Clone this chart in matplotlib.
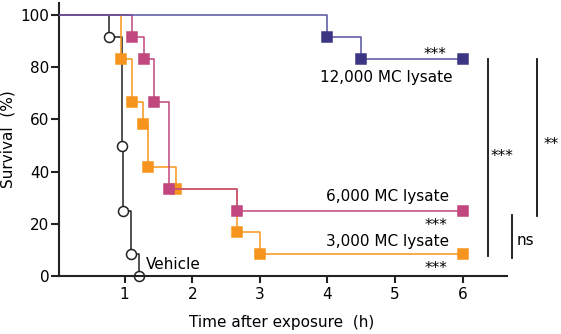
#!/usr/bin/env python3
import numpy as np
import matplotlib
matplotlib.use("Agg")
import matplotlib.pyplot as plt

# Kaplan-Meier style survival data (hours, % survival)
vehicle_t = [0.77, 0.96, 0.98, 1.10, 1.21]
vehicle_s = [91.7, 50.0, 25.0, 8.3, 0.0]

low_t = [0.94, 1.11, 1.27, 1.35, 1.76, 2.66, 3.0, 6.0]   # 3,000 MC lysate
low_s = [83.3, 66.7, 58.3, 41.7, 33.3, 16.7, 8.3, 8.3]

mid_t = [1.11, 1.28, 1.43, 1.65, 2.66, 6.0]              # 6,000 MC lysate
mid_s = [91.7, 83.3, 66.7, 33.3, 25.0, 25.0]

high_t = [4.0, 4.5, 6.0]                                 # 12,000 MC lysate
high_s = [91.7, 83.3, 83.3]

x_ticks = [1, 2, 3, 4, 5, 6]
y_ticks = [0, 20, 40, 60, 80, 100]

plt.rcParams["font.family"] = ["DejaVu Sans"]
FS = 11
PX = 67.6  # pixels per hour

fig = plt.figure(figsize=(5.61, 3.34), dpi=100)
ax = fig.add_axes([59 / 561, 58 / 334, 502 / 561, 273 / 334])
ax.set_xlim(2 / PX, 504 / PX)
ax.set_ylim(0, 104.6)


def km(t, s, line_c, mark_c, marker, face=None, z=2):
    xs = np.r_[0, t]
    ys = np.r_[100, s]
    ax.step(xs, ys, where="post", color=line_c, lw=1.1, zorder=z)
    ax.plot(t, s, ls="none", marker=marker, ms=7 if marker == "s" else 7.2,
            mfc=face if face else mark_c, mec=mark_c, mew=1.1,
            zorder=z + 0.5, clip_on=False)


km(vehicle_t, vehicle_s, "#222222", "#222222", "o", face="white", z=2)
km(low_t, low_s, "#f7941d", "#f7941d", "s", z=3)
km(mid_t, mid_s, "#c2477f", "#c2477f", "s", z=4)
km(high_t, high_s, "#5650a0", "#3b3584", "s", z=5)

# labels on curves
ax.text(5.76, 85, "***", ha="right", va="center", fontsize=FS)
ax.text(5.85, 76, "12,000 MC lysate", ha="right", va="center", fontsize=FS)
ax.text(5.8, 30.5, "6,000 MC lysate", ha="right", va="center", fontsize=FS)
ax.text(5.78, 19.5, "***", ha="right", va="center", fontsize=FS)
ax.text(5.8, 13.3, "3,000 MC lysate", ha="right", va="center", fontsize=FS)
ax.text(5.78, 2.8, "***", ha="right", va="center", fontsize=FS)
ax.text(1.32, 4.5, "Vehicle", ha="left", va="center", fontsize=FS)

# significance brackets
ax.plot([6.37, 6.37], [83.3, 7.7], color="#111111", lw=1.3, clip_on=False)
ax.text(6.42, 45.8, "***", ha="left", va="center", fontsize=FS)
ax.plot([7.1, 7.1], [83.3, 23.0], color="#111111", lw=1.3, clip_on=False)
ax.text(7.2, 50.5, "**", ha="left", va="center", fontsize=FS)
ax.plot([6.73, 6.73], [23.4, 7.0], color="#111111", lw=1.3, clip_on=False)
ax.text(6.8, 13.5, "ns", ha="left", va="center", fontsize=FS)

# axes styling
for side in ("top", "right"):
    ax.spines[side].set_visible(False)
for side in ("left", "bottom"):
    ax.spines[side].set_linewidth(1.5)
    ax.spines[side].set_color("#222222")
ax.spines["bottom"].set_bounds(2 / PX, 6.65)
ax.set_xticks(x_ticks)
ax.set_yticks(y_ticks)
ax.tick_params(axis="y", direction="out", length=6, width=1.5,
               color="#222222", labelsize=FS, pad=1)
ax.tick_params(axis="x", direction="out", length=5, width=1.5,
               color="#222222", labelsize=FS, pad=3)

ax.set_xlabel("Time after exposure  (h)", fontsize=FS, va="center")
ax.set_ylabel("Survival  (%)", fontsize=FS)
ax.xaxis.set_label_coords((282 - 59) / 502, -(322 - 276) / 273)
ax.yaxis.set_label_coords(-(59 - 16) / 502, 0.5)

fig.savefig("out.png", dpi=100)
